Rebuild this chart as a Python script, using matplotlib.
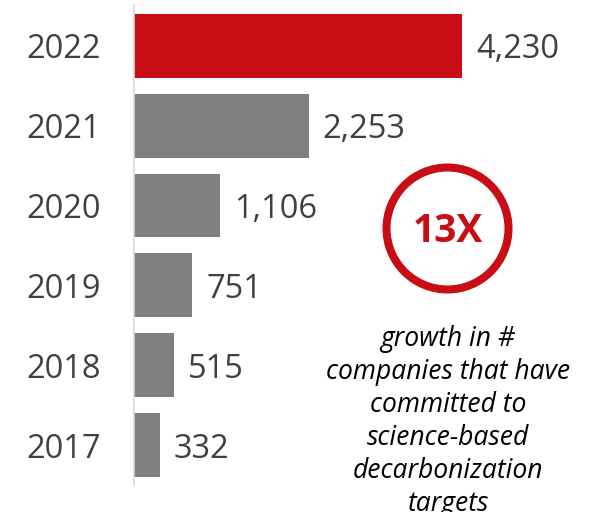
import matplotlib
matplotlib.use("Agg")
import matplotlib.pyplot as plt
from matplotlib.patches import Ellipse

plt.rcParams["font.family"] = ["Open Sans", "DejaVu Sans"]

# companies with science-based targets, by year
years = ["2017", "2018", "2019", "2020", "2021", "2022"]
companies = [332, 515, 751, 1106, 2253, 4230]
highlight_year = "2022"

growth_label = "13X"
growth_note = "growth in #\ncompanies that have\ncommitted to\nscience-based\ndecarbonization\ntargets"

RED = "#C80D14"
GREY = "#808080"
TEXT = "#404040"

W, H = 593, 512
fig = plt.figure(figsize=(W / 100, H / 100), dpi=100)

# axes laid out in pixel terms: bars start at x=134, 4,230 reaches x=462
left_px, top_px, bottom_px = 134, 5, 485
ax = fig.add_axes([left_px / W, (H - bottom_px) / H, (W - left_px) / W, (bottom_px - top_px) / H])
ax.set_xlim(0, (W - left_px) / 328 * max(companies))
ax.set_ylim(-0.5, 5.51)

colors = [RED if y == highlight_year else GREY for y in years]
ypos = range(len(years))
ax.barh(ypos, companies, height=0.8, color=colors, edgecolor="none")

for y, v in zip(ypos, companies):
    ax.annotate(f"{v:,}", (v, y), xytext=(10, 0), textcoords="offset points",
                va="center_baseline", ha="left", fontsize=23.5, color=TEXT)

ax.set_yticks(list(ypos))
ax.set_yticklabels(years, fontsize=23.5, color=TEXT, va="center_baseline")
ax.tick_params(axis="y", length=0, pad=24)
ax.set_xticks([])
for side in ["top", "right", "bottom"]:
    ax.spines[side].set_visible(False)
ax.spines["left"].set_color("#D9D9D9")
ax.spines["left"].set_linewidth(1.2)

# growth callout
cx, cy, r = 447.5, 228.5, 61
fig.add_artist(Ellipse((cx / W, 1 - cy / H), 2 * r / W, 2 * r / H,
                       transform=fig.transFigure, fill=False,
                       edgecolor=RED, linewidth=5.8))
fig.text(cx / W, 1 - 231 / H, growth_label, ha="center", va="center",
         fontsize=28, fontweight="bold", color=RED)
fig.text(448 / W, 1 - 325 / H, growth_note, ha="center", va="top",
         fontsize=19.1, style="italic", color="#000000", linespacing=1.24)

fig.savefig("out.png", dpi=100)
